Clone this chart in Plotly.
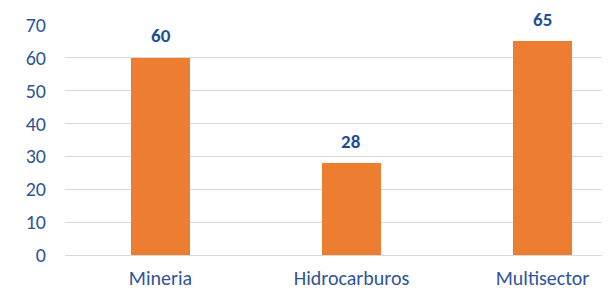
import plotly.graph_objects as go

categories = ["Mineria", "Hidrocarburos", "Multisector"]
values = [60, 28, 65]
y_ticks = [0, 10, 20, 30, 40, 50, 60, 70]

blue = "#2F5597"
fnt = "Carlito, Lato, sans-serif"
xs = list(range(len(categories)))
fig = go.Figure(go.Bar(
    x=xs, y=values,
    marker=dict(color="#ED7D31", line=dict(width=0)),
    width=0.314,
))
for x, v in zip(xs, values):
    fig.add_annotation(x=x, y=v, text=f"<b>{v}</b>", showarrow=False,
                       yanchor="middle", yshift=22,
                       font=dict(family=fnt, size=19, color="#1F4E99"))
fig.update_layout(
    width=610, height=291,
    margin=dict(l=57, r=10, t=17, b=44),
    paper_bgcolor="white", plot_bgcolor="white",
    showlegend=False,
    font=dict(family=fnt, size=20, color=blue),
    bargap=0,
)
fig.update_xaxes(
    range=[-0.5, 2.343], tickvals=xs, ticktext=categories, automargin=False,
    showgrid=False, showline=False, zeroline=False, ticks="", ticklen=0,
    tickfont=dict(size=20, color=blue), ticklabelstandoff=9,
)
fig.update_yaxes(
    range=[0, 70], tickvals=y_ticks, showgrid=True, gridcolor="#D9D9D9", gridwidth=1.3,
    zeroline=True, zerolinecolor="#D9D9D9", zerolinewidth=1.3, showline=False, automargin=False,
    ticks="", tickfont=dict(size=20, color=blue), ticklabelstandoff=18,
)
fig.write_html("out.html")
